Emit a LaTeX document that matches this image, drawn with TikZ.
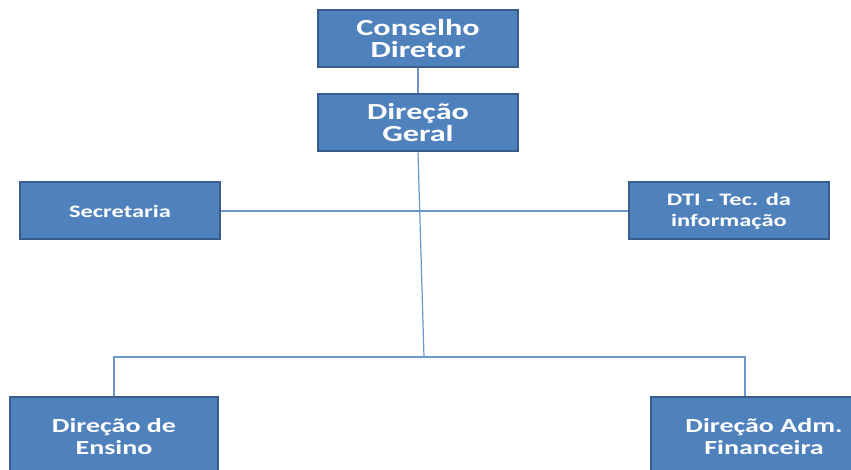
\documentclass[tikz,border=0pt]{standalone}
\usepackage{fontspec}
\setmainfont{Carlito}[FakeStretch=1.4]
\usetikzlibrary{positioning}

\definecolor{boxblue}{HTML}{4F81BD}
\definecolor{boxedge}{HTML}{385D8A}
\definecolor{linkblue}{HTML}{6C98CC}

\begin{document}
\begin{tikzpicture}[x=1pt,y=-1pt,
                    big node/.style={rectangle,draw=boxedge,fill=boxblue,line width=2pt,text=white,align=center,inner sep=0pt,
                      minimum width=200pt,minimum height=57pt,font=\fontsize{23}{22}\selectfont\bfseries},
                    small node/.style={big node,font=\fontsize{17.5}{21}\selectfont\bfseries},
                    low node/.style={big node,minimum height=80pt,font=\fontsize{20}{22}\selectfont\bfseries},
                    link/.style={draw=linkblue,line width=1.2pt}]

  \clip (0,0) rectangle (851,470);

  \node[big node] (conselho) at (418,39) {Conselho\\Diretor};
  \node[big node] (geral) [below=25pt of conselho] {Direção\\Geral};
  \node[small node] (secretaria) at (120,211) {Secretaria};
  \node[small node] (dti) at (729,211) {DTI - Tec. da\\informação};
  \node[low node,minimum width=208pt] (ensino) at (114,437) {Direção de\\Ensino};
  \node[low node,minimum width=226pt] (financeira) at (764,437) {Direção Adm.\\Financeira};
  \coordinate (meio) at (424,357);

  \path[link]
    (conselho) edge (geral)
    (secretaria) edge (dti)
    (geral.south) edge (meio);
  \draw[link] (ensino.north) |- (meio) -| ([xshift=-19pt]financeira.north);

\end{tikzpicture}
\end{document}
